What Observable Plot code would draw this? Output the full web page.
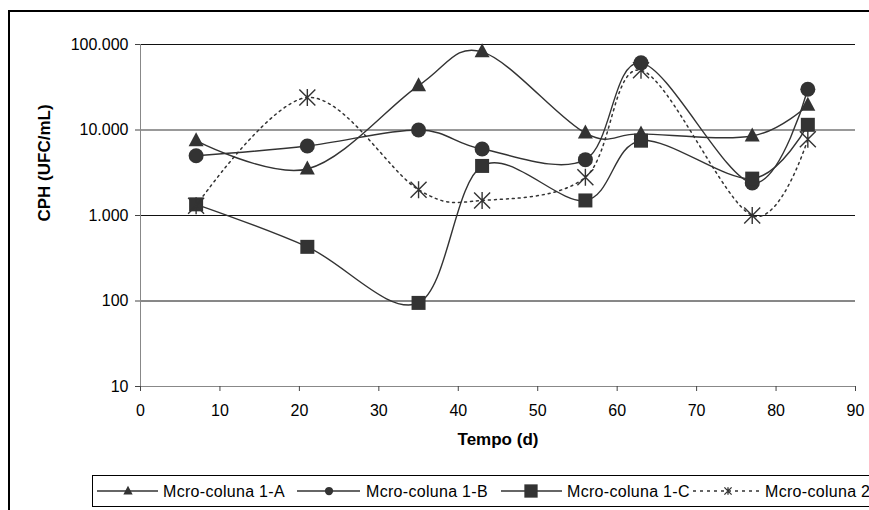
<!DOCTYPE html>
<html>
<head>
<meta charset="utf-8">
<script src="https://cdn.jsdelivr.net/npm/d3@7"></script>
<script src="https://cdn.jsdelivr.net/npm/@observablehq/plot@0.6"></script>
<style>
  body { margin: 0; background: #fff; }
  #chart svg { display: block; }
</style>
</head>
<body>
<div id="chart"></div>
<script>
// Sampling days and CPH counts (UFC/mL) for each micro-column
const dias = [7, 21, 35, 43, 56, 63, 77, 84];
const coluna1A = [7500, 3500, 33000, 82000, 9200, 9000, 8500, 19500];
const coluna1B = [5000, 6500, 10000, 6000, 4500, 61000, 2400, 30000];
const coluna1C = [1350, 430, 95, 3800, 1500, 7500, 2700, 11500];
const coluna2  = [1300, 24000, 2000, 1500, 2800, 50000, 1000, 7800];
const nomes = ["Mcro-coluna 1-A", "Mcro-coluna 1-B", "Mcro-coluna 1-C", "Mcro-coluna 2"];
const yTicks = [10, 100, 1000, 10000, 100000];
const xTicks = [0, 10, 20, 30, 40, 50, 60, 70, 80, 90];

const valores = [coluna1A, coluna1B, coluna1C, coluna2];
const rows = nomes.flatMap((nome, i) => dias.map((dia, j) => ({serie: nome, dia, cph: valores[i][j]})));
const of = nome => rows.filter(d => d.serie === nome);

// Marker shapes (fixed pixel sizes, independent of the size argument)
const shape = (drawFn) => ({draw: drawFn});
const triangulo = s => shape(ctx => { ctx.moveTo(0, -8.5 * s); ctx.lineTo(7.5 * s, 5.5 * s); ctx.lineTo(-7.5 * s, 5.5 * s); ctx.closePath(); });
const circulo = s => shape(ctx => { ctx.moveTo(7.5 * s, 0); ctx.arc(0, 0, 7.5 * s, 0, 2 * Math.PI); });
const quadrado = s => shape(ctx => { ctx.rect(-7 * s, -7 * s, 14 * s, 14 * s); });
const asterisco = s => shape(ctx => {
  ctx.moveTo(0, -8.5 * s); ctx.lineTo(0, 8.5 * s);
  ctx.moveTo(-8 * s, -8 * s); ctx.lineTo(8 * s, 8 * s);
  ctx.moveTo(-8 * s, 8 * s); ctx.lineTo(8 * s, -8 * s);
});

const fmt = d3.formatLocale({decimal: ",", thousands: ".", grouping: [3], currency: ["", ""]}).format(",");
const ink = "#333";
const font = "'Liberation Sans', Arial, sans-serif";

const svg = Plot.plot({
  width: 869,
  height: 510,
  marginLeft: 140,
  marginRight: 14,
  marginTop: 44,
  marginBottom: 124,
  style: {fontFamily: font, fontSize: "16px", background: "#fff", color: "#000"},
  x: {domain: [0, 90]},
  y: {type: "log", domain: [10, 100000]},
  marks: [
    Plot.ruleY(yTicks.slice(1), {stroke: d => d === 10000 ? "#777" : "#111", strokeWidth: d => d === 10000 ? 1.6 : 1}),
    Plot.ruleX([0], {stroke: "#888"}),
    Plot.ruleY([10], {stroke: "#888"}),
    Plot.axisY(yTicks, {tickSize: 5, tickPadding: 7, tickFormat: fmt, stroke: "#444", fontSize: 16, label: null}),
    Plot.axisX(xTicks, {tickSize: 5, tickPadding: 13, tickFormat: d => d, stroke: "#444", fontSize: 16, label: null}),
    Plot.text(["Tempo (d)"], {frameAnchor: "bottom", dy: 58, fontWeight: "bold", fontSize: 17}),
    Plot.text(["CPH (UFC/mL)"], {frameAnchor: "left", dx: -96, dy: 6, rotate: -90, fontWeight: "bold", fontSize: 17}),
    Plot.line(of(nomes[0]), {x: "dia", y: "cph", curve: "cardinal", stroke: ink, strokeWidth: 1.4}),
    Plot.line(of(nomes[1]), {x: "dia", y: "cph", curve: "cardinal", stroke: ink, strokeWidth: 1.4}),
    Plot.line(of(nomes[2]), {x: "dia", y: "cph", curve: "cardinal", stroke: ink, strokeWidth: 1.4}),
    Plot.line(of(nomes[3]), {x: "dia", y: "cph", curve: "cardinal", stroke: ink, strokeWidth: 1.5, strokeDasharray: "2,4"}),
    Plot.dot(of(nomes[0]), {x: "dia", y: "cph", r: 5, symbol: triangulo(1), fill: ink, stroke: "none"}),
    Plot.dot(of(nomes[1]), {x: "dia", y: "cph", r: 5, symbol: circulo(1), fill: ink, stroke: "none"}),
    Plot.dot(of(nomes[2]), {x: "dia", y: "cph", r: 5, symbol: quadrado(1), fill: ink, stroke: "none"}),
    Plot.dot(of(nomes[3]), {x: "dia", y: "cph", r: 5, symbol: asterisco(1), fill: "none", stroke: ink, strokeWidth: 1.4})
  ]
});

// Outer frame and legend box
const root = d3.select(svg);
root.append("rect")
  .attr("x", 9).attr("y", 11).attr("width", 900).attr("height", 600)
  .attr("fill", "none").attr("stroke", "#000").attr("stroke-width", 2);

const legenda = root.append("g")
  .attr("font-family", font).attr("font-size", 16).attr("text-anchor", "start");
legenda.append("rect")
  .attr("x", 92.5).attr("y", 475.5).attr("width", 820).attr("height", 31)
  .attr("fill", "#fff").attr("stroke", "#000").attr("stroke-width", 1);

const itens = [
  {x0: 97, x1: 158, mx: 128, sym: triangulo(0.62), fill: ink, stroke: "none", dash: null, tx: 163},
  {x0: 297, x1: 360, mx: 329, sym: circulo(0.55), fill: ink, stroke: "none", dash: null, tx: 366},
  {x0: 501, x1: 562, mx: 531, sym: quadrado(0.95), fill: ink, stroke: "none", dash: null, tx: 567},
  {x0: 693, x1: 760, mx: 728, sym: asterisco(0.45), fill: "none", stroke: ink, dash: "3,4", tx: 765}
];
const ly = 491;
itens.forEach((it, i) => {
  legenda.append("line")
    .attr("x1", it.x0).attr("x2", it.x1).attr("y1", ly).attr("y2", ly)
    .attr("stroke", ink).attr("stroke-width", 1.4)
    .attr("stroke-dasharray", it.dash);
  legenda.append("path")
    .attr("transform", `translate(${it.mx},${ly})`)
    .attr("d", d3.symbol(it.sym)())
    .attr("fill", it.fill).attr("stroke", it.stroke).attr("stroke-width", 1.3);
  legenda.append("text")
    .attr("x", it.tx).attr("y", ly).attr("dy", "0.36em")
    .attr("text-anchor", "start")
    .attr("letter-spacing", 0.3)
    .text(nomes[i]);
});

document.getElementById("chart").append(svg);
</script>
</body>
</html>
